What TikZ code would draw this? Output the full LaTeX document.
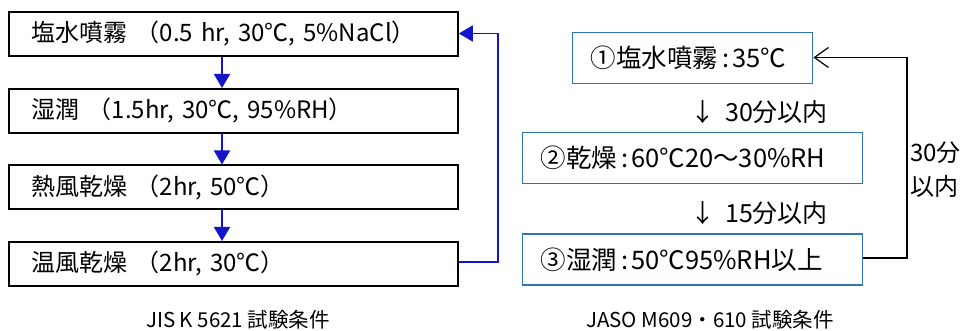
\documentclass[tikz,border=0pt]{standalone}
\usepackage{fontspec}
\setmainfont{Noto Sans CJK JP}
\usetikzlibrary{arrows.meta}
\definecolor{boxblue}{RGB}{46,117,182}
\definecolor{arrblue}{RGB}{20,20,200}
\newcommand{\clnsep}{\hspace{4pt}:\hspace{3pt}}
\begin{document}
\begin{tikzpicture}[x=1pt,y=-1pt,
  lbox/.style={draw=black,line width=1.8pt,anchor=north west,minimum width=449pt,minimum height=44pt,inner xsep=23pt,text width=403pt,align=left,font=\fontsize{24}{26}\selectfont},
  rbox/.style={draw=boxblue,line width=1.4pt,anchor=north west,minimum height=51pt,inner xsep=18pt,align=left,font=\fontsize{25.5}{28}\selectfont},
  barr/.style={draw=arrblue,line width=1.8pt,-{Triangle[width=16pt,length=14pt]}},
  karr/.style={draw=black,line width=1.2pt,-{Straight Barb[length=14pt,width=20pt,line width=1.2pt]}},
  lbl/.style={font=\fontsize{25}{28}\selectfont,inner sep=0pt},
  captext/.style={font=\fontsize{20.5}{22}\selectfont,inner sep=0pt}]
\useasboundingbox (0,0) rectangle (962,331);
% left
\node[lbox] (l1) at (8,11) {塩水噴霧 （0.5 hr, 30℃, 5\%NaCl）};
\node[lbox] (l2) at (8,88) {湿潤 （1.5hr, 30℃, 95\%RH）};
\node[lbox] (l3) at (8,164.5) {熱風乾燥 （2hr, 50℃）};
\node[lbox] (l4) at (8,241) {温風乾燥 （2hr, 30℃）};
\draw[barr] (l1.south -| 222,0) -- (l2.north -| 222,0);
\draw[barr] (l2.south -| 222,0) -- (l3.north -| 222,0);
\draw[barr] (l3.south -| 222,0) -- (l4.north -| 222,0);
\coordinate (lc1) at (498,262);
\coordinate (lc2) at (498,33.5);
\draw[barr] (l4.east |- lc1) -- (lc1) -- (lc2) -- (l1.east |- lc2);
\node[captext] (c1) at (238,320) {JIS K 5621 試験条件};
% right
\node[rbox,minimum width=240pt,text width=204pt] (r1) at (572,32) {①塩水噴霧\clnsep 35℃};
\node[rbox,minimum width=340pt,text width=304pt] (r2) at (522,132) {②乾燥\clnsep 60℃20～30\%RH};
\node[rbox,minimum width=340pt,text width=304pt] (r3) at (522,233.5) {③湿潤\clnsep 50℃95\%RH以上};
\node[lbl,anchor=west] (t1) at (690,112) {↓\hspace{10pt}30分以内};
\node[lbl,anchor=west] (t2) at (690,213) {↓\hspace{10pt}15分以内};
\coordinate (rc1) at (907,258);
\coordinate (rc2) at (907,57.5);
\draw[karr] (r3.east |- rc1) -- (rc1) -- (rc2) -- (r1.east |- rc2);
\node[lbl,anchor=west,align=left,font=\fontsize{24}{34}\selectfont] (t3) at (910,170) {30分\\以内};
\node[captext] (c2) at (710,320) {JASO M609・610 試験条件};
\end{tikzpicture}
\end{document}
